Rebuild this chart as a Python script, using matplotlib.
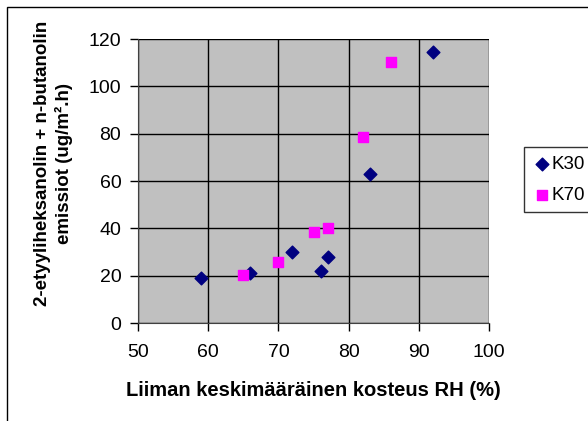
import matplotlib
matplotlib.use('Agg')
import matplotlib.pyplot as plt
from matplotlib.patches import Rectangle

# K30 and K70 series: RH (%) vs emission (ug/m2.h)
k30_rh = [59, 66, 72, 76, 77, 83, 92]
k30_em = [19.2, 21.3, 29.8, 22.0, 27.8, 63.0, 114.6]
k70_rh = [65, 70, 75, 77, 82, 86]
k70_em = [20.2, 25.7, 38.3, 40.1, 78.5, 110.4]

x_ticks = [50, 60, 70, 80, 90, 100]
y_ticks = [0, 20, 40, 60, 80, 100, 120]

plt.rcParams['font.family'] = ['Liberation Sans', 'DejaVu Sans']

W, H = 588, 421
fig = plt.figure(figsize=(W / 100, H / 100), dpi=100)
ax = fig.add_axes([138 / W, 1 - 323 / H, (489 - 138) / W, (323 - 39) / H])

ax.set_facecolor('#C0C0C0')
ax.set_xlim(50, 100)
ax.set_ylim(0, 120)
ax.set_xticks(x_ticks)
ax.set_yticks(y_ticks)
ax.grid(True, color='black', linewidth=1)
ax.set_axisbelow(True)
for s in ax.spines.values():
    s.set_visible(False)
ax.spines['left'].set_visible(True)
ax.spines['bottom'].set_visible(True)
ax.spines['left'].set_color('#404040')
ax.spines['bottom'].set_color('#404040')
ax.tick_params(direction='out', length=6, width=1, labelsize=14)
ax.tick_params(axis='x', pad=9)
ax.tick_params(axis='y', pad=6)

ax.scatter(k30_rh, k30_em, marker='D', s=42, color='#000080', label='K30', zorder=3)
ax.scatter(k70_rh, k70_em, marker='s', s=45, color='#FF00FF', label='K70', zorder=3)

fig.text(313 / W, 1 - 396 / H, 'Liiman keskimääräinen kosteus RH (%)',
         ha='center', va='baseline', fontsize=14.5, fontweight='bold')
fig.text(43 / W, 1 - 163 / H, '2-etyyliheksanolin + n-butanolin',
         ha='center', va='center', rotation=90, fontsize=13.5, fontweight='bold')
fig.text(64 / W, 1 - 163 / H, 'emissiot (ug/m².h)',
         ha='center', va='center', rotation=90, fontsize=13.5, fontweight='bold')

leg = fig.legend(loc='upper left', bbox_to_anchor=(524 / W, 1 - 147 / H),
                 fontsize=13.5, frameon=True, fancybox=False, handletextpad=0.0,
                 handlelength=1.0, borderpad=0.45, labelspacing=0.75, borderaxespad=0)
leg.get_frame().set_edgecolor('black')
leg.get_frame().set_linewidth(1)

# outer chart border (top and left visible only)
fig.patches.append(Rectangle((6.5 / W, -0.1), 1.2, 1 - 6.5 / H + 0.1,
                             transform=fig.transFigure, fill=False,
                             edgecolor='black', linewidth=1))

fig.savefig('out.png', dpi=100)
